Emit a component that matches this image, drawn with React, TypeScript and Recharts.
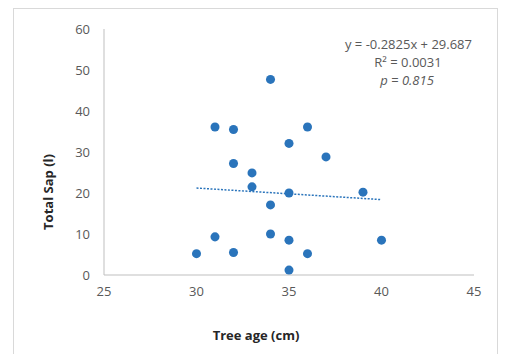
import React from "react";
import {
  ScatterChart,
  Scatter,
  XAxis,
  YAxis,
  ZAxis,
  ReferenceLine,
  Label,
} from "recharts";

// tree age (cm) and total sap (l)
const treeAge = [30, 31, 31, 32, 32, 32, 33, 33, 34, 34, 34, 35, 35, 35, 35, 36, 36, 37, 39, 40];
const totalSap = [5.2, 9.3, 36.1, 5.5, 27.2, 35.5, 24.9, 21.5, 47.7, 17.1, 10.0, 32.1, 20.0, 8.5, 1.2, 36.1, 5.2, 28.8, 20.2, 8.5];

const xTicks = [25, 30, 35, 40, 45];
const yTicks = [0, 10, 20, 30, 40, 50, 60];

// linear trendline from the equation shown on the chart
const slope = -0.2825;
const intercept = 29.687;
const trendRange = [30, 40];

const points = treeAge.map((x, i) => ({ x, y: totalSap[i] }));
const trendSegment = trendRange.map((x) => ({ x, y: slope * x + intercept }));

const BLUE = "#2A74BB";
const GREY = "#595959";
const FONT = "'Open Sans', 'Noto Sans', sans-serif";

const App = () => {
  return (
    <div style={{ position: "absolute", left: 0, top: 0, width: 509, height: 354, overflow: "hidden", background: "#fff" }}>
      <div
        style={{
          position: "absolute",
          left: 13,
          top: 8,
          width: 485,
          height: 360,
          border: "1px solid #d9d9d9",
          boxSizing: "border-box",
        }}
      />
      <ScatterChart
        width={509}
        height={354}
        margin={{ top: 29, right: 35, left: 44, bottom: 49 }}
        style={{ position: "absolute", left: 0, top: 0, fontFamily: FONT }}
      >
        <XAxis
          type="number"
          dataKey="x"
          domain={[25, 45]}
          ticks={xTicks}
          tickLine={false}
          tickSize={0}
          tickMargin={12}
          height={30}
          axisLine={{ stroke: "#bfbfbf" }}
          tick={{ fill: GREY, fontSize: 13 }}
        >
          <Label
            content={() => (
              <text x={256} y={340} textAnchor="middle" fontWeight="bold" fontSize={13} fill="#262626">
                Tree age (cm)
              </text>
            )}
          />
        </XAxis>
        <YAxis
          type="number"
          dataKey="y"
          domain={[0, 60]}
          ticks={yTicks}
          tickLine={false}
          tickSize={0}
          tickMargin={14}
          width={60}
          axisLine={{ stroke: "#bfbfbf" }}
          tick={{ fill: GREY, fontSize: 13 }}
        >
          <Label
            content={() => (
              <text
                x={48}
                y={192}
                transform="rotate(-90 48 192)"
                textAnchor="middle"
                dominantBaseline="central"
                fontWeight="bold"
                fontSize={13}
                fill="#262626"
              >
                Total Sap (l)
              </text>
            )}
          />
        </YAxis>
        <ZAxis range={[42, 42]} />
        <ReferenceLine
          segment={trendSegment}
          stroke={BLUE}
          strokeWidth={1.5}
          strokeDasharray="2 1.5"
        />
        <Scatter data={points} fill={BLUE} shape="circle" isAnimationActive={false} />
        <text x={472} y={49} textAnchor="end" fontSize={13} fill={GREY} fontFamily={FONT}>
          y = -0.2825x + 29.687
        </text>
        <text x={408} y={67} textAnchor="middle" fontSize={13} fill={GREY} fontFamily={FONT}>
          R² = 0.0031
        </text>
        <text x={407} y={85} textAnchor="middle" fontSize={13} fill={GREY} fontStyle="italic" fontFamily={FONT}>
          p = 0.815
        </text>
      </ScatterChart>
    </div>
  );
};

export default App;
